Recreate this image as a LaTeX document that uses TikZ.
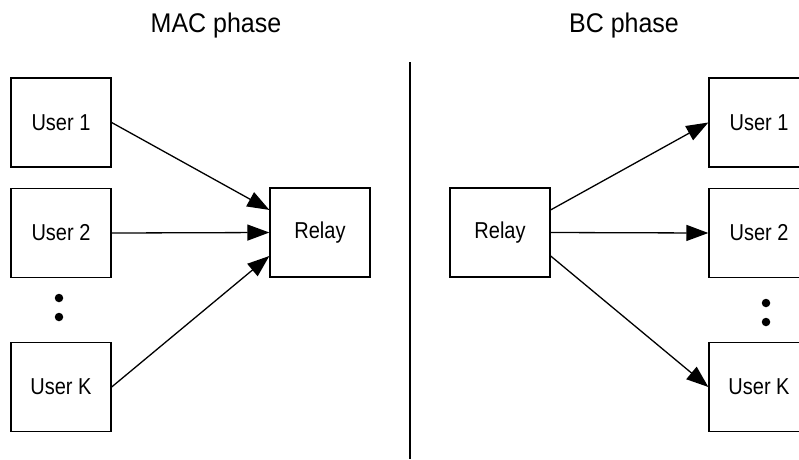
\documentclass[tikz,border=0pt]{standalone}
\usepackage{fontspec}
\setmainfont{Liberation Sans}
\usetikzlibrary{arrows.meta,calc}
\begin{document}
\begin{tikzpicture}[x=1pt,y=-1pt,
  box/.style={draw,line width=1.3pt,minimum width=100pt,minimum height=89pt,inner sep=0pt,
    font=\fontsize{20}{20}\selectfont},
  conn/.style={line width=1.3pt,-{Triangle[length=22pt,width=16pt]}},
  title/.style={font=\fontsize{25}{25}\selectfont},
  dot/.style={circle,fill=black,minimum size=8.5pt,inner sep=0pt}]
\useasboundingbox (0,0) rectangle (799,459);
\clip (0,0) rectangle (799,459);
% titles
\node[title] (t1) at (216,26) {\scalebox{1}[1.08]{MAC phase}};
\node[title] (t2) at (624,26) {\scalebox{1}[1.08]{BC phase}};
% divider
\coordinate (d1) at (410,62);
\coordinate (d2) at (410,459);
\draw[line width=1.3pt] (d1) -- (d2);
% MAC phase
\node[box] (u1) at (61,122.5) {\scalebox{1}[1.15]{User 1}};
\node[box] (u2) at (61,233) {\scalebox{1}[1.15]{User 2}};
\node[box] (uk) at (61,387) {\scalebox{1}[1.15]{User K}};
\node[dot] (ld1) at (59,298) {};
\node[dot] (ld2) at (59,317) {};
\node[box] (r1) at (320,232.5) {\scalebox{1}[1.15]{Relay}};
\draw[conn] (u1.east) -- ($(r1.north west)!0.25!(r1.south west)$);
\draw[conn] (u2.east) -- (r1.west);
\draw[conn] (uk.east) -- ($(r1.north west)!0.76!(r1.south west)$);
% BC phase
\node[box] (r2) at (500,232.5) {\scalebox{1}[1.15]{Relay}};
\node[box] (v1) at (759,122.5) {\scalebox{1}[1.15]{User 1}};
\node[box] (v2) at (759,233) {\scalebox{1}[1.15]{User 2}};
\node[box] (vk) at (759,387) {\scalebox{1}[1.15]{User K}};
\node[dot] (rd1) at (766,303) {};
\node[dot] (rd2) at (766,322) {};
\draw[conn] ($(r2.north east)!0.25!(r2.south east)$) -- (v1.west);
\draw[conn] (r2.east) -- (v2.west);
\draw[conn] ($(r2.north east)!0.76!(r2.south east)$) -- (vk.west);
\end{tikzpicture}
\end{document}
